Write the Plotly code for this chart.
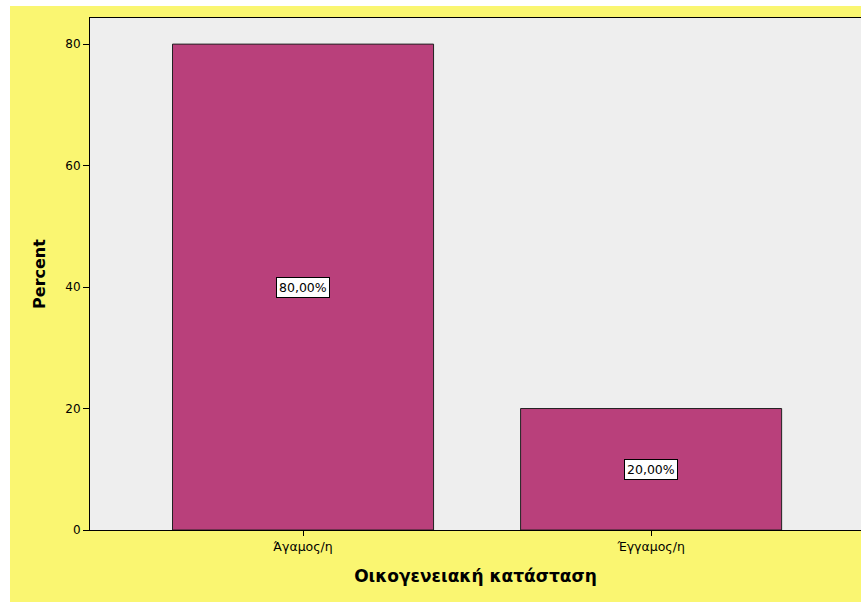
import plotly.graph_objects as go

# Marital status distribution (percent of respondents)
categories = ["Άγαμος/η", "Έγγαμος/η"]
percent = [80.0, 20.0]
y_ticks = [0, 20, 40, 60, 80]

W, H = 861, 602
L, R, T, B = 90, 0, 18, 72

bar_color = "#B9407B"
font_family = "DejaVu Sans, Verdana, sans-serif"

def fmt_pct(v):
    return f"{v:.2f}".replace(".", ",") + "%"

fig = go.Figure()
fig.add_trace(go.Bar(
    x=categories,
    y=percent,
    width=0.75,
    marker=dict(color=bar_color, line=dict(color="#222222", width=1)),
    hoverinfo="skip",
))

# Value labels in boxes at the middle of each bar
for cat, v in zip(categories, percent):
    fig.add_annotation(
        x=cat, y=v / 2, text=fmt_pct(v), showarrow=False,
        font=dict(family=font_family, size=12.5, color="black"),
        bgcolor="white", bordercolor="black", borderwidth=1, borderpad=2,
    )

# White margins around the yellow chart area (top and left)
pw = W - L - R
ph = H - T - B
fig.add_shape(type="rect", xref="paper", yref="paper",
              x0=-L / pw, x1=(W - L) / pw + 0.01,
              y0=(H - B - 6) / ph, y1=(H - B) / ph + 0.02,
              fillcolor="white", line=dict(width=0), layer="below")
fig.add_shape(type="rect", xref="paper", yref="paper",
              x0=-L / pw - 0.01, x1=(10 - L) / pw,
              y0=-B / ph - 0.02, y1=(H - B) / ph + 0.02,
              fillcolor="white", line=dict(width=0), layer="below")

fig.update_layout(
    width=W, height=H,
    margin=dict(l=L, r=R, t=T, b=B, pad=0),
    paper_bgcolor="#FAF671",
    plot_bgcolor="#EEEEEE",
    showlegend=False,
    font=dict(family=font_family, size=12, color="black"),
)
fig.update_xaxes(
    type="category",
    range=[-0.612, 1.603],
    showline=True, linecolor="black", linewidth=1, mirror=True,
    ticks="outside", ticklen=5, tickcolor="black", tickwidth=1,
    tickfont=dict(size=12.5, family=font_family),
    showgrid=False, zeroline=False,
    title=dict(text="<b>Οικογενειακή κατάσταση</b>",
               font=dict(size=17, family=font_family), standoff=17),
)
fig.update_yaxes(
    range=[0, 84.3],
    tickvals=y_ticks, ticktext=[str(t) for t in y_ticks],
    showline=True, linecolor="black", linewidth=1,
    ticks="outside", ticklen=6, tickcolor="black", tickwidth=1,
    tickfont=dict(size=12, family=font_family),
    showgrid=False, zeroline=False,
    title=dict(text="<b>Percent</b>",
               font=dict(size=16, family=font_family), standoff=15),
)

fig.write_html("out.html")
